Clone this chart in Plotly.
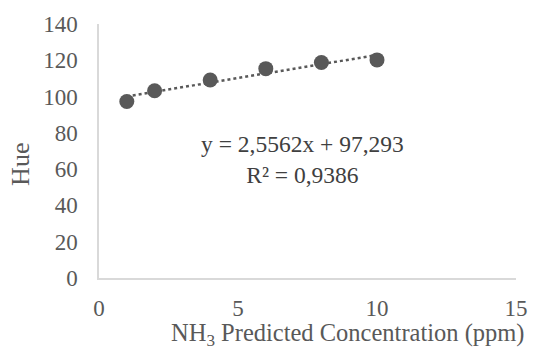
import numpy as np
import plotly.graph_objects as go

conc = [1, 2, 4, 6, 8, 10]
hue = [97.3, 103.2, 109.1, 115.4, 118.8, 120.2]
x_ticks = [0, 5, 10, 15]
y_ticks = [0, 20, 40, 60, 80, 100, 120, 140]

slope, intercept = np.polyfit(conc, hue, 1)
fit_x = np.array([min(conc), max(conc)])
fit_y = slope * fit_x + intercept

GREY = "#595959"
FONT = "Liberation Serif, Times New Roman, serif"

L, R, T, B, W, H = 99, 14, 24, 72, 540, 350
pw, ph = W - L - R, H - T - B


def px(xp):
    return (xp - L) / pw


def py(yp):
    return (H - B - yp) / ph


fig = go.Figure()
fig.add_trace(go.Scatter(x=fit_x, y=fit_y, mode="lines",
                         line=dict(color=GREY, width=2.5, dash="dot"),
                         hoverinfo="skip", showlegend=False))
fig.add_trace(go.Scatter(x=conc, y=hue, mode="markers",
                         marker=dict(color=GREY, size=15),
                         showlegend=False))

fig.add_annotation(x=px(307), y=py(160), xref="paper", yref="paper",
                   xanchor="center", yanchor="middle",
                   text="y = 2,5562x + 97,293<br>R² = 0,9386",
                   showarrow=False, align="center",
                   font=dict(family=FONT, size=23.5, color="#404040"))
fig.add_annotation(x=px(354), y=py(334), xref="paper", yref="paper",
                   xanchor="center", yanchor="middle",
                   text="NH<sub>3</sub> Predicted Concentration (ppm)",
                   showarrow=False, font=dict(family=FONT, size=24.5, color=GREY))
fig.add_annotation(x=px(18), y=py(164), xref="paper", yref="paper",
                   xanchor="center", yanchor="middle",
                   text="Hue", textangle=-90,
                   showarrow=False, font=dict(family=FONT, size=26, color=GREY))

fig.update_layout(
    width=W, height=H,
    margin=dict(l=L, r=R, t=T, b=B),
    paper_bgcolor="white", plot_bgcolor="white",
    font=dict(family=FONT, size=23, color=GREY),
    xaxis=dict(range=[0, 15], tickvals=x_ticks, showgrid=False, zeroline=False,
               showline=True, linecolor="#d9d9d9", linewidth=1.5,
               ticks="outside", ticklen=9, tickcolor="rgba(0,0,0,0)"),
    yaxis=dict(range=[0, 140], tickvals=y_ticks, showgrid=False, zeroline=False,
               showline=True, linecolor="#d9d9d9", linewidth=1.5,
               ticks="outside", ticklen=15, tickcolor="rgba(0,0,0,0)"),
)

fig.write_html("out.html")
